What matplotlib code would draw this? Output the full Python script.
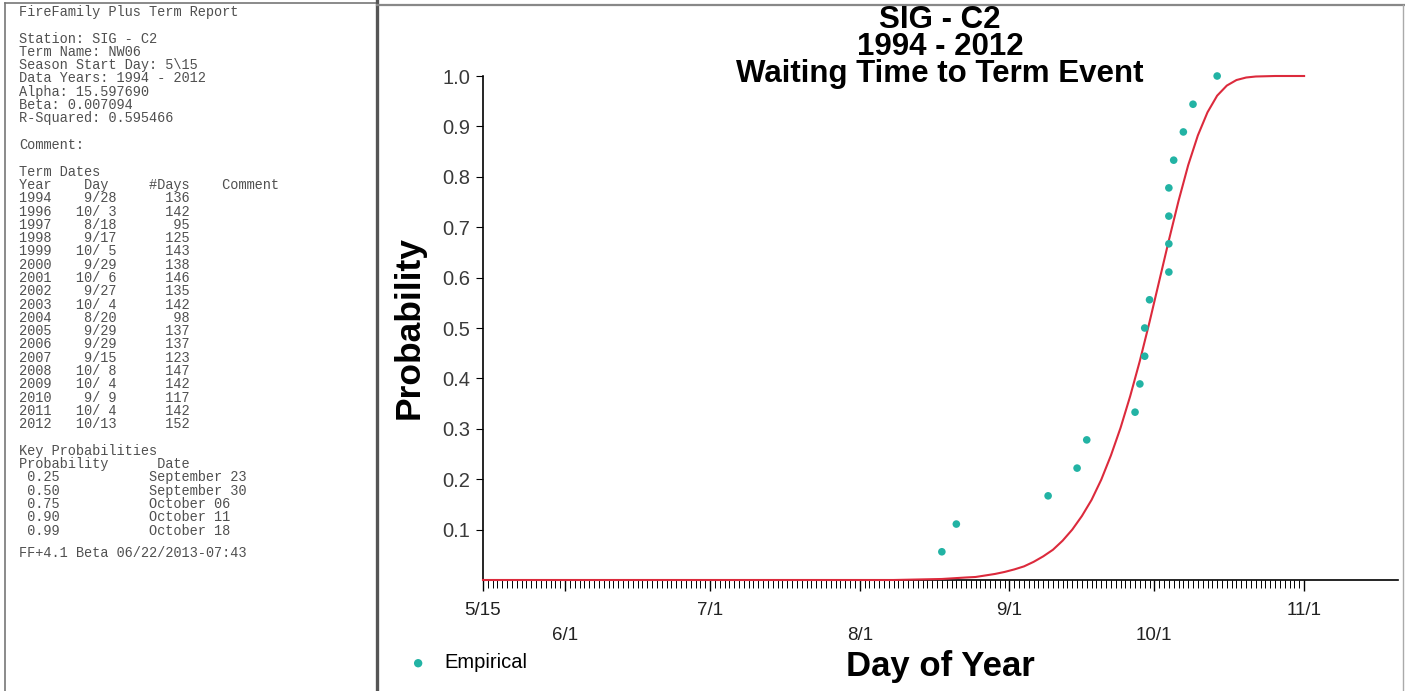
import matplotlib.pyplot as plt
from matplotlib.lines import Line2D
from matplotlib import font_manager

W, H = 1405, 691

# report text (left panel)
station = "SIG - C2"
term_name = "NW06"
start_day = "5\\15"
data_years = "1994 - 2012"
alpha = "15.597690"
beta = "0.007094"
r_squared = "0.595466"

term_years = [1994, 1996, 1997, 1998, 1999, 2000, 2001, 2002, 2003,
              2004, 2005, 2006, 2007, 2008, 2009, 2010, 2011, 2012]
term_dates = ["9/28", "10/ 3", "8/18", "9/17", "10/ 5", "9/29", "10/ 6", "9/27", "10/ 4",
              "8/20", "9/29", "9/29", "9/15", "10/ 8", "10/ 4", "9/ 9", "10/ 4", "10/13"]
term_ndays = [136, 142, 95, 125, 143, 138, 146, 135, 142,
              98, 137, 137, 123, 147, 142, 117, 142, 152]

key_probs = ["0.25", "0.50", "0.75", "0.90", "0.99"]
key_dates = ["September 23", "September 30", "October 06", "October 11", "October 18"]

# chart data: days since season start (5/15)
emp_days = [95, 98, 117, 123, 125, 135, 136, 137, 137, 138, 142, 142, 142, 142, 143, 145, 147, 152]
emp_prob = [0.056, 0.111, 0.167, 0.222, 0.278, 0.333, 0.389, 0.444, 0.500, 0.556,
            0.611, 0.667, 0.722, 0.778, 0.833, 0.889, 0.944, 1.000]

curve_days = [0, 85, 95, 100, 102, 104, 106, 108, 110, 112, 114, 116, 118, 120, 122, 124,
              126, 128, 130, 132, 134, 136, 138, 140, 142, 144, 146, 148, 150, 152, 154,
              156, 158, 160, 164, 170]
curve_prob = [0.0, 0.0, 0.002, 0.005, 0.006, 0.009, 0.012, 0.016, 0.021, 0.027, 0.036, 0.047,
              0.060, 0.078, 0.100, 0.127, 0.159, 0.199, 0.247, 0.302, 0.365, 0.435, 0.512,
              0.593, 0.674, 0.752, 0.823, 0.882, 0.928, 0.961, 0.981, 0.992, 0.997, 0.999,
              1.0, 1.0]

date_ticks = [0, 17, 47, 78, 109, 139, 170]
date_labels = ["5/15", "\n6/1", "7/1", "\n8/1", "9/1", "\n10/1", "11/1"]
prob_ticks = [0.1, 0.2, 0.3, 0.4, 0.5, 0.6, 0.7, 0.8, 0.9, 1.0]

names = {f.name for f in font_manager.fontManager.ttflist}
sans = "Liberation Sans" if "Liberation Sans" in names else "DejaVu Sans"
mono = "Liberation Mono" if "Liberation Mono" in names else "DejaVu Sans Mono"
plt.rcParams['font.family'] = sans


def fx(x):
    return x / W


def fy(y):
    return 1 - y / H


fig = plt.figure(figsize=(W / 100, H / 100), dpi=100)
fig.patch.set_facecolor('white')

# panel borders
for xs, ys, c, lw in [([5, 5], [3, 691], '#777777', 1.2),
                      ([5, 376], [3, 3], '#777777', 1.2),
                      ([377, 377], [0, 691], '#555555', 2.4),
                      ([377, 1405], [5, 5], '#888888', 1.6),
                      ([1403, 1403], [5, 691], '#aaaaaa', 1.0)]:
    fig.add_artist(Line2D([fx(v) for v in xs], [fy(v) for v in ys], color=c, lw=lw))

# left report
lines = ["FireFamily Plus Term Report", "",
         "Station: " + station, "Term Name: " + term_name,
         "Season Start Day: " + start_day, "Data Years: " + data_years,
         "Alpha: " + alpha, "Beta: " + beta, "R-Squared: " + r_squared, "",
         "Comment:", "", "Term Dates",
         "Year    Day     #Days    Comment"]
for yr, d, n in zip(term_years, term_dates, term_ndays):
    lines.append(f"{yr}   {d:>5}      {n:>3}")
lines += ["", "Key Probabilities", "Probability      Date"]
for p, d in zip(key_probs, key_dates):
    lines.append(f" {p}           {d}")
lines += ["", "FF+4.1 Beta 06/22/2013-07:43"]

for i, s in enumerate(lines):
    y = 12 + i * 13.3 if i < 41 else 553
    fig.text(fx(19), fy(y), s, family=mono, fontsize=9.8,
             color='#505050', va='center', ha='left')

# chart
ax = fig.add_axes([fx(483), fy(580), fx(1398 - 483), (580 - 76) / H])
ax.plot(curve_days, curve_prob, color='#dc2a3c', lw=1.5, zorder=4, clip_on=False)
ax.scatter(emp_days, emp_prob, s=30, color='#22b3a4', edgecolors='none', zorder=5,
           clip_on=False, label='Empirical')

ax.set_xlim(0, (1398 - 483) / 4.83)
ax.set_ylim(0, 1.0)
for side in ['top', 'right']:
    ax.spines[side].set_visible(False)
ax.spines['left'].set_linewidth(1.2)
ax.spines['bottom'].set_linewidth(1.2)

ax.set_yticks(prob_ticks)
ax.set_yticklabels([f"{v:.1f}" for v in prob_ticks])
ax.tick_params(axis='y', direction='out', length=5, width=0.8, labelsize=14.5,
               labelcolor='#3a3a3a', pad=4)

ax.set_xticks(date_ticks)
ax.set_xticklabels(date_labels, linespacing=1.6)
ax.set_xticks(range(0, 171), minor=True)
ax.tick_params(axis='x', which='major', direction='out', length=8, width=1.0,
               labelsize=13.5, labelcolor='#222222', pad=8)
ax.tick_params(axis='x', which='minor', direction='out', length=6, width=0.7)

ax.set_ylabel("Probability", fontsize=25.5, fontweight='bold', labelpad=12)
ax.set_xlabel("Day of Year", fontsize=25, fontweight='bold', labelpad=4)

# title
fig.text(fx(940), fy(47), "SIG - C2\n1994 - 2012\nWaiting Time to Term Event",
         fontsize=22.5, fontweight='bold', ha='center', va='center',
         multialignment='center', linespacing=0.88)

ax.legend(loc='center left', bbox_to_anchor=(fx(396), fy(663)), bbox_transform=fig.transFigure,
          frameon=False, fontsize=14.5, handletextpad=0.7, borderpad=0, handlelength=1.2,
          markerscale=1.1)

fig.savefig('out.png', dpi=100)
